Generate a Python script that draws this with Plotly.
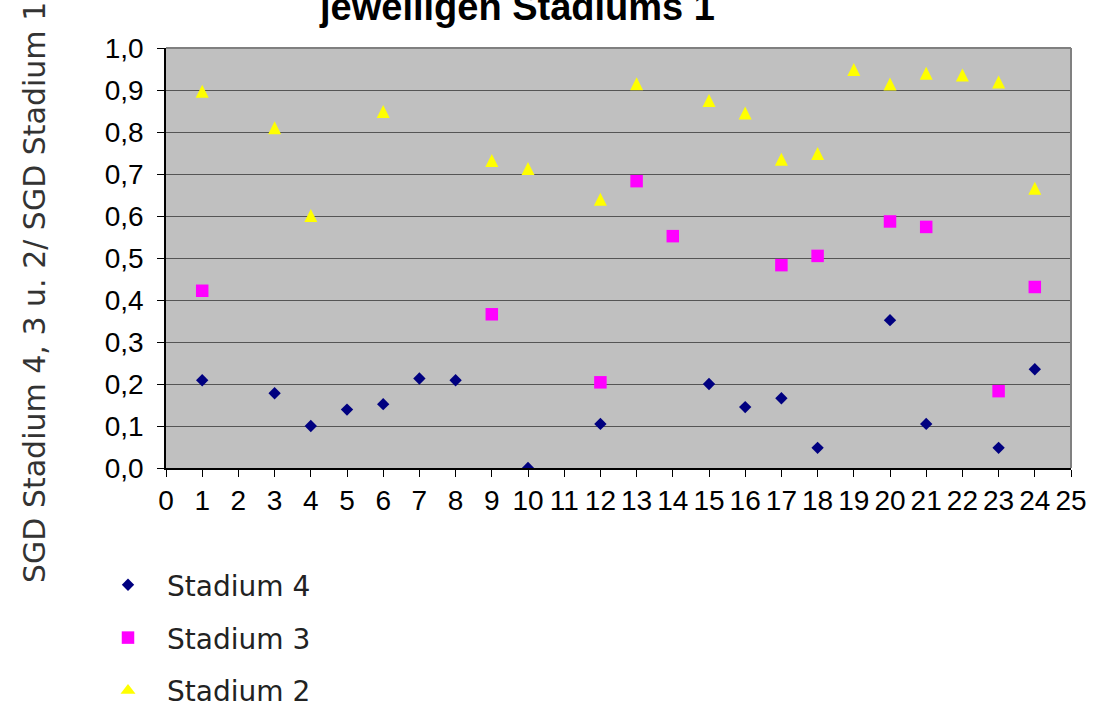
import plotly.graph_objects as go

# Stadium index (x) and SGD ratios for each stage
x_st4 = [1, 3, 4, 5, 6, 7, 8, 10, 12, 15, 16, 17, 18, 20, 21, 23, 24]
y_st4 = [0.209, 0.178, 0.100, 0.139, 0.152, 0.213, 0.209, 0.0, 0.105, 0.200,
         0.145, 0.166, 0.048, 0.352, 0.105, 0.048, 0.235]

x_st3 = [1, 9, 12, 13, 14, 17, 18, 20, 21, 23, 24]
y_st3 = [0.422, 0.366, 0.204, 0.683, 0.552, 0.483, 0.505, 0.587, 0.574, 0.183, 0.431]

x_st2 = [1, 3, 4, 6, 9, 10, 12, 13, 15, 16, 17, 18, 19, 20, 21, 22, 23, 24]
y_st2 = [0.897, 0.810, 0.601, 0.849, 0.732, 0.713, 0.640, 0.915, 0.875, 0.845,
         0.735, 0.749, 0.949, 0.914, 0.940, 0.936, 0.919, 0.666]

series_names = ["Stadium 4", "Stadium 3", "Stadium 2"]
y_tick_vals = [i / 10 for i in range(11)]
y_tick_text = [f"{v:.1f}".replace(".", ",") for v in y_tick_vals]
x_tick_vals = list(range(26))

title_text = "jeweiligen Stadiums 1"
y_title_text = "SGD Stadium 4, 3 u. 2/ SGD Stadium 1"

W, H = 1101, 704
L, R, T, B = 166, 30, 48, 236
plot_w = W - L - R
plot_h = H - T - B


def px_x(p):
    return (p - L) / plot_w


def px_y(p):
    return (H - B - p) / plot_h


fig = go.Figure()
fig.add_trace(go.Scatter(
    x=x_st4, y=y_st4, mode="markers", name=series_names[0], legendgroup="a",
    marker=dict(symbol="diamond", size=9.5, color="#000080", line=dict(width=0)),
))
fig.add_trace(go.Scatter(
    x=x_st3, y=y_st3, mode="markers", name=series_names[1], legendgroup="b",
    marker=dict(symbol="square", size=12.5, color="#FF00FF", line=dict(width=0)),
))
# upright triangles centred on their values (arrow flipped and pushed back by half its height)
fig.add_trace(go.Scatter(
    x=x_st2, y=y_st2, mode="markers", name=series_names[2], legendgroup="c",
    showlegend=False,
    marker=dict(symbol="arrow-down", angle=180, standoff=6.5, size=13,
                color="#FFFF00", line=dict(width=0)),
))
# legend key for the triangles
fig.add_trace(go.Scatter(
    x=[None], y=[None], mode="markers", name=series_names[2], legendgroup="c",
    marker=dict(symbol="triangle-up", size=13, color="#FFFF00", line=dict(width=0)),
))

tick_font = dict(family="Liberation Sans, Arial, sans-serif", size=28, color="#000000")

fig.update_layout(
    width=W, height=H,
    margin=dict(l=L, r=R, t=T, b=B, autoexpand=False),
    paper_bgcolor="#FFFFFF",
    plot_bgcolor="#C0C0C0",
    showlegend=True,
    legend=dict(
        x=px_x(89), y=px_y(560), xanchor="left", yanchor="top",
        font=dict(family="DejaVu Sans, sans-serif", size=28, color="#222222"),
        traceorder="grouped", tracegroupgap=13.5, itemwidth=68,
        bgcolor="rgba(0,0,0,0)",
    ),
    xaxis=dict(
        range=[0, 25], tickmode="array", tickvals=x_tick_vals,
        showgrid=False, zeroline=False,
        showline=True, linecolor="#000000", linewidth=1.5,
        ticks="outside", ticklen=7, tickcolor="#000000", tickwidth=1,
        tickfont=tick_font,
    ),
    yaxis=dict(
        range=[0, 1], tickmode="array", tickvals=y_tick_vals, ticktext=y_tick_text,
        showgrid=True, gridcolor="#555555", gridwidth=1.2, zeroline=False,
        showline=True, linecolor="#000000", linewidth=1.5,
        ticks="outside", ticklen=7, tickcolor="#000000", tickwidth=1,
        ticklabelstandoff=8,
        tickfont=tick_font,
    ),
    shapes=[
        dict(type="line", xref="paper", yref="paper", x0=0, x1=1, y0=1, y1=1,
             line=dict(color="#808080", width=2)),
        dict(type="line", xref="paper", yref="paper", x0=1, x1=1, y0=0, y1=1,
             line=dict(color="#808080", width=2)),
    ],
    annotations=[
        dict(text=f"<b>{title_text}</b>", xref="paper", yref="paper",
             x=px_x(517), y=px_y(7), xanchor="center", yanchor="middle",
             showarrow=False,
             font=dict(family="Liberation Sans, Arial, sans-serif", size=38, color="#000000")),
        dict(text=y_title_text, xref="paper", yref="paper",
             x=px_x(34), y=px_y(293), xanchor="center", yanchor="middle",
             textangle=-90, showarrow=False,
             font=dict(family="DejaVu Sans, sans-serif", size=30, color="#333333")),
    ],
)

fig.write_html("out.html")
